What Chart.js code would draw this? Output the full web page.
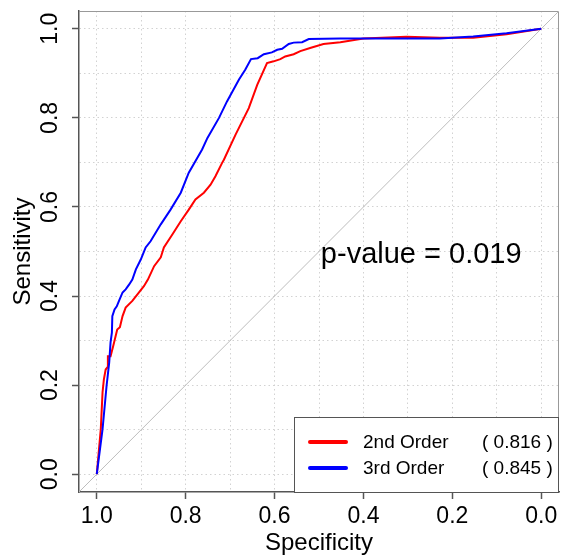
<!DOCTYPE html>
<html lang="en">
<head>
<meta charset="UTF-8">
<title>ROC curves</title>
<script src="https://cdn.jsdelivr.net/npm/chart.js@4.4.0/dist/chart.umd.min.js"></script>
<style>
  body { margin: 0; background: #fff; }
  #wrap { width: 561px; height: 556px; }
</style>
</head>
<body>
<div id="wrap"><canvas id="roc_chart"></canvas></div>
<script>
// series info
var seriesNames = ['2nd Order', '3rd Order'];
var aucValues = ['0.816', '0.845'];
var seriesColors = ['#ff0000', '#0000ff'];
var pValueText = 'p-value = 0.019';

// 2nd order curve (specificity, sensitivity)
var spec2nd = [1.000, 0.991, 0.987, 0.984, 0.980, 0.976, 0.975, 0.969, 0.963, 0.954, 0.948, 0.942, 0.935, 0.920,
  0.905, 0.894, 0.885, 0.871, 0.856, 0.849, 0.830, 0.811, 0.793, 0.778, 0.759, 0.744, 0.733, 0.718, 0.714,
  0.688, 0.658, 0.639, 0.617, 0.602, 0.587, 0.576, 0.557, 0.542, 0.520, 0.490, 0.452, 0.400, 0.303, 0.228,
  0.153, 0.078, 0.000];
var sens2nd = [0.000, 0.101, 0.184, 0.213, 0.235, 0.240, 0.265, 0.265, 0.288, 0.325, 0.330, 0.355, 0.374, 0.389,
  0.408, 0.422, 0.437, 0.467, 0.487, 0.509, 0.538, 0.568, 0.594, 0.617, 0.632, 0.650, 0.669, 0.699, 0.706,
  0.762, 0.822, 0.874, 0.923, 0.927, 0.932, 0.938, 0.943, 0.950, 0.957, 0.966, 0.970, 0.978, 0.982, 0.980,
  0.980, 0.988, 1.000];

// 3rd order curve
var spec3rd = [1.000, 0.987, 0.978, 0.972, 0.969, 0.966, 0.965, 0.960, 0.955, 0.950, 0.942, 0.935, 0.927, 0.920,
  0.912, 0.901, 0.890, 0.879, 0.856, 0.834, 0.811, 0.793, 0.763, 0.751, 0.725, 0.707, 0.680, 0.666, 0.653,
  0.638, 0.624, 0.606, 0.594, 0.583, 0.568, 0.557, 0.538, 0.523, 0.452, 0.340, 0.228, 0.153, 0.078, 0.000];
var sens3rd = [0.000, 0.101, 0.198, 0.251, 0.296, 0.318, 0.355, 0.370, 0.377, 0.389, 0.408, 0.415, 0.426, 0.437,
  0.460, 0.482, 0.509, 0.523, 0.561, 0.594, 0.632, 0.677, 0.729, 0.755, 0.800, 0.837, 0.886, 0.908, 0.932,
  0.934, 0.943, 0.947, 0.953, 0.955, 0.966, 0.969, 0.970, 0.977, 0.978, 0.978, 0.978, 0.983, 0.990, 1.000];

// chance line
var diagSpec = [1.04, -0.04];
var diagSens = [-0.04, 1.04];

function toPoints(xs, ys) {
  return xs.map(function(x, i) { return {x: x, y: ys[i]}; });
}

function evenTenth(v) {
  return Math.round(v * 10) % 2 === 0;
}

Chart.defaults.font.family = '"Liberation Sans", Arial, sans-serif';
Chart.defaults.color = '#000';

// box on top/right of the plot region
var framePlugin = {
  id: 'frame',
  beforeDatasetsDraw: function(chart) {
    var a = chart.chartArea, ctx = chart.ctx;
    ctx.save();
    ctx.strokeStyle = '#999';
    ctx.lineWidth = 1;
    ctx.beginPath();
    ctx.moveTo(a.left, a.top + 0.5);
    ctx.lineTo(a.right - 0.5, a.top + 0.5);
    ctx.lineTo(a.right - 0.5, a.bottom);
    ctx.stroke();
    ctx.restore();
  }
};

var annotPlugin = {
  id: 'annot',
  afterDraw: function(chart) {
    var ctx = chart.ctx, a = chart.chartArea;
    var xs = chart.scales.x, ys = chart.scales.y;
    ctx.save();
    // p-value text
    ctx.font = '29px "Liberation Sans", Arial, sans-serif';
    ctx.fillStyle = '#000';
    ctx.textAlign = 'center';
    ctx.textBaseline = 'alphabetic';
    ctx.fillText(pValueText, xs.getPixelForValue(0.27), ys.getPixelForValue(0.475));

    // legend box
    var bx = a.right - 265, by = a.bottom - 75;
    ctx.fillStyle = '#fff';
    ctx.fillRect(bx, by, a.right - bx, a.bottom - by);
    ctx.strokeStyle = '#555';
    ctx.lineWidth = 1;
    ctx.strokeRect(bx + 0.5, by + 0.5, a.right - bx - 1, a.bottom - by);
    ctx.font = '19px "Liberation Sans", Arial, sans-serif';
    ctx.textBaseline = 'middle';
    for (var i = 0; i < seriesNames.length; i++) {
      var ly = by + 25 + i * 26;
      ctx.strokeStyle = seriesColors[i];
      ctx.lineWidth = 4;
      ctx.lineCap = 'round';
      ctx.beginPath();
      ctx.moveTo(bx + 16, ly);
      ctx.lineTo(bx + 52, ly);
      ctx.stroke();
      ctx.fillStyle = '#000';
      ctx.textAlign = 'left';
      ctx.fillText(seriesNames[i], bx + 69, ly + 1);
      ctx.fillText('( ' + aucValues[i] + ' )', bx + 188, ly + 1);
    }
    ctx.restore();
  }
};

var axisCommon = {
  type: 'linear',
  min: -0.04,
  max: 1.04,
  grid: {
    color: '#d2d2d2',
    lineWidth: 1,
    tickLength: 7,
    tickWidth: 1.5,
    tickColor: function(c) { return evenTenth(c.tick.value) ? '#555' : 'rgba(0,0,0,0)'; }
  },
  border: { color: '#555', width: 1.5, dash: [1.5, 3] }
};

new Chart(document.getElementById('roc_chart'), {
  type: 'scatter',
  data: {
    datasets: [
      {
        label: seriesNames[1],
        data: toPoints(spec3rd, sens3rd),
        borderColor: seriesColors[1],
        borderWidth: 2,
        showLine: true,
        pointRadius: 0,
        fill: false
      },
      {
        label: seriesNames[0],
        data: toPoints(spec2nd, sens2nd),
        borderColor: seriesColors[0],
        borderWidth: 2,
        showLine: true,
        pointRadius: 0,
        fill: false
      },
      {
        label: 'chance',
        data: toPoints(diagSpec, diagSens),
        borderColor: '#bdbdbd',
        borderWidth: 1,
        showLine: true,
        pointRadius: 0,
        fill: false
      }
    ]
  },
  options: {
    responsive: true,
    maintainAspectRatio: false,
    animation: false,
    layout: { padding: { top: 11, right: 2, left: 0, bottom: 0 } },
    plugins: {
      legend: { display: false },
      tooltip: { enabled: false }
    },
    scales: {
      x: Object.assign({}, axisCommon, {
        reverse: true,
        ticks: {
          stepSize: 0.1,
          includeBounds: false,
          autoSkip: false,
          maxRotation: 0,
          padding: 4,
          font: { size: 23 },
          callback: function(v) { return evenTenth(v) ? Math.abs(v).toFixed(1) : ''; }
        },
        title: { display: true, text: 'Specificity', font: { size: 24, lineHeight: 1.05 }, padding: { top: 0, bottom: 0 } },
        afterFit: function(s) { s.height = 64; s.paddingLeft = 0; s.paddingRight = 0; }
      }),
      y: Object.assign({}, axisCommon, {
        ticks: {
          stepSize: 0.1,
          includeBounds: false,
          autoSkip: false,
          minRotation: 90,
          maxRotation: 90,
          crossAlign: 'center',
          padding: 5,
          font: { size: 23 },
          callback: function(v) { return evenTenth(v) ? Math.abs(v).toFixed(1) : ''; }
        },
        title: { display: true, text: 'Sensitivity', font: { size: 24, lineHeight: 1.2 }, padding: { top: 9, bottom: 0 } },
        afterFit: function(s) { s.width = 79; s.paddingTop = 0; s.paddingBottom = 0; }
      })
    }
  },
  plugins: [framePlugin, annotPlugin]
});
</script>
</body>
</html>
